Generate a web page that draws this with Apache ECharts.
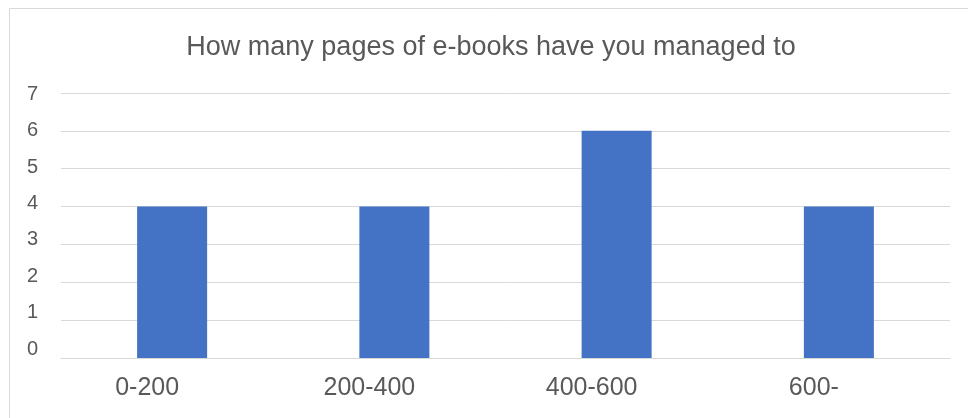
<!DOCTYPE html>
<html>
<head>
<meta charset="utf-8">
<script src="https://cdn.jsdelivr.net/npm/echarts@6/dist/echarts.min.js"></script>
<style>
html,body{margin:0;padding:0;background:#fff;}
#chart{width:968px;height:418px;}
</style>
</head>
<body>
<div id="chart"></div>
<script>
var titleText = 'How many pages of e-books have you managed to';
var categories = ['0-200', '200-400', '400-600', '600-'];
var values = [4, 4, 6, 4];
var yTickLabels = [0, 1, 2, 3, 4, 5, 6, 7];

var chart = echarts.init(document.getElementById('chart'), null, {renderer: 'canvas'});
var font = 'Liberation Sans, Arial, sans-serif';
chart.setOption({
  animation: false,
  backgroundColor: '#ffffff',
  title: {
    text: titleText,
    left: 486,
    textAlign: 'center',
    top: 29,
    textStyle: {fontFamily: font, fontSize: 27, fontWeight: 'normal', color: '#595959'}
  },
  graphic: [{
    type: 'rect',
    shape: {x: 9.5, y: 8.5, width: 1100, height: 600},
    style: {fill: 'none', stroke: '#d9d9d9', lineWidth: 1},
    silent: true,
    z: -1
  }],
  grid: {left: 61, right: 18, top: 93, bottom: 60, containLabel: false},
  xAxis: {
    type: 'category',
    data: categories,
    axisLine: {show: true, lineStyle: {color: '#d9d9d9', width: 1}},
    axisTick: {show: false},
    axisLabel: {
      color: '#595959', fontFamily: font, fontSize: 25,
      margin: 30, verticalAlign: 'middle',
      padding: [0, 50, 0, 0]
    }
  },
  yAxis: [{
    type: 'value',
    min: 0, max: 7, interval: 1,
    axisLine: {show: false},
    axisTick: {show: false},
    axisLabel: {show: false},
    splitLine: {show: true, lineStyle: {color: '#d9d9d9', width: 1}}
  }, {
    type: 'value',
    position: 'left',
    min: -0.247, max: 7.036,
    axisLine: {show: false},
    axisTick: {show: false},
    splitLine: {show: false},
    axisLabel: {
      color: '#595959', fontFamily: font, fontSize: 20,
      margin: 23,
      customValues: yTickLabels,
      formatter: function (v) { return String(Math.round(v)); }
    }
  }],
  series: [{
    type: 'bar',
    data: values,
    yAxisIndex: 0,
    barWidth: '31.5%',
    itemStyle: {color: '#4472C4'}
  }]
});
</script>
</body>
</html>
